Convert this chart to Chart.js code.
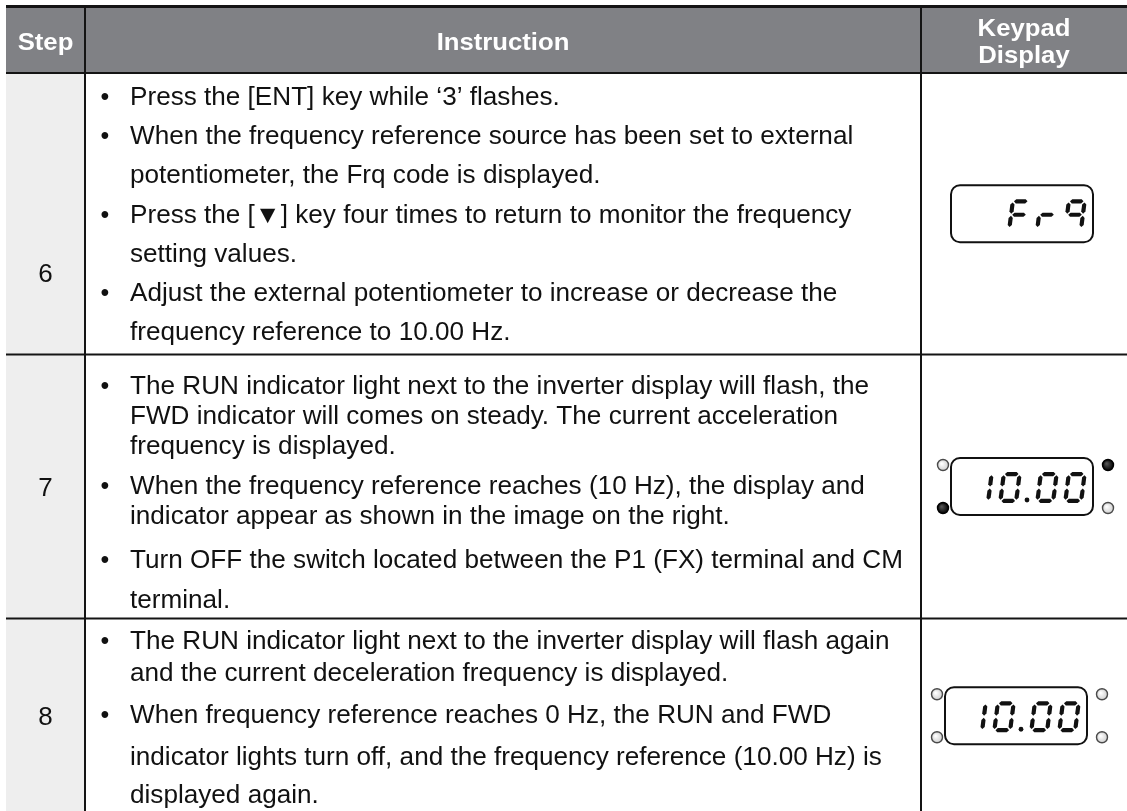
<!DOCTYPE html>
<html>
<head>
<meta charset="utf-8">
<script src="https://cdn.jsdelivr.net/npm/chart.js@4.4.0/dist/chart.umd.min.js"></script>
<style>
html, body { margin: 0; padding: 0; background: #fff; }
#table { display: block; }
</style>
</head>
<body>
<canvas id="table" width="1127" height="811"></canvas>
<script>
// ---- table content ----
const headers = ['Step', 'Instruction', 'Keypad\nDisplay'];
const steps = ['6', '7', '8'];
const instructions = [
	[
		['Press the [ENT] key while \u20183\u2019 flashes.'],
		['When the frequency reference source has been set to external', 'potentiometer, the Frq code is displayed.'],
		['Press the [\u25BC] key four times to return to monitor the frequency', 'setting values.'],
		['Adjust the external potentiometer to increase or decrease the', 'frequency reference to 10.00 Hz.']
	],
	[
		['The RUN indicator light next to the inverter display will flash, the', 'FWD indicator will comes on steady. The current acceleration', 'frequency is displayed.'],
		['When the frequency reference reaches (10 Hz), the display and', 'indicator appear as shown in the image on the right.'],
		['Turn OFF the switch located between the P1 (FX) terminal and CM', 'terminal.']
	],
	[
		['The RUN indicator light next to the inverter display will flash again', 'and the current deceleration frequency is displayed.'],
		['When frequency reference reaches 0 Hz, the RUN and FWD', 'indicator lights turn off, and the frequency reference (10.00 Hz) is', 'displayed again.']
	]
];
const keypadText = ['Frq', '10.00', '10.00'];
// indicator lamps: left top, left bottom, right top, right bottom (1 = lit)
const keypadLeds = [null, [0, 1, 1, 0], [0, 0, 0, 0]];

// ---- layout (table units = px of the page) ----
const colEdges = [6, 85, 921, 1127];
const rowEdges = [73, 354.5, 618.5, 813];
const topRule = 6.5;
const lineY = [
	[105, 144, 183, 223, 262, 301, 340],
	[394, 424, 454, 494, 524, 568, 608],
	[649, 681, 723, 765, 803]
];
const stepY = [282, 496, 725];
const boxShift = [0, 0, -6];

const ruleColor = '#141414';
const headerFill = '#808185';
const stepFill = '#eeeeee';
const FONT = '"Liberation Sans", Arial, sans-serif';

function rule(points, width) {
	return {
		data: points, borderColor: ruleColor, borderWidth: width,
		pointRadius: 0, fill: false, tension: 0, order: 1
	};
}
function band(x0, x1, y, toY, color) {
	return {
		data: [{x: x0, y: y}, {x: x1, y: y}], fill: {value: toY},
		backgroundColor: color, borderColor: 'rgba(0,0,0,0)', borderWidth: 1,
		pointRadius: 0, tension: 0, order: 2
	};
}

const left = colEdges[0], right = colEdges[colEdges.length - 1];
const datasets = [
	band(left, right, rowEdges[0], topRule + 1.5, headerFill),
	band(left, colEdges[1] - 1, 811, rowEdges[0], stepFill),
	rule([{x: left, y: topRule}, {x: right, y: topRule}], 3)
];
rowEdges.slice(0, -1).forEach(function (y) {
	datasets.push(rule([{x: left, y: y}, {x: right, y: y}], 2));
});
colEdges.slice(1, -1).forEach(function (x) {
	datasets.push(rule([{x: x, y: topRule + 1.5}, {x: x, y: 811}], 2));
});

// ---- seven segment glyphs ----
const SEGS = {
	'0': 'abcdef', '1': 'bc', 'F': 'aefg', 'r': 'eg', 'q': 'abcfg', '-': 'g'
};
function drawGlyph(ctx, ch, x0, top, w, h, k) {
	const t = 4.2, g = 1.1;
	const P = function (u, v) { return [x0 + u + k * (h - v) / h, top + v]; };
	function poly(pts) {
		ctx.beginPath();
		pts.forEach(function (p, i) {
			const q = P(p[0], p[1]);
			if (i === 0) ctx.moveTo(q[0], q[1]); else ctx.lineTo(q[0], q[1]);
		});
		ctx.closePath();
		ctx.fill();
	}
	function hseg(v) {
		const u1 = g + t / 2, u2 = w - g - t / 2;
		poly([[u1, v], [u1 + t / 2, v - t / 2], [u2 - t / 2, v - t / 2], [u2, v], [u2 - t / 2, v + t / 2], [u1 + t / 2, v + t / 2]]);
	}
	function vseg(u, v1, v2) {
		poly([[u, v1], [u + t / 2, v1 + t / 2], [u + t / 2, v2 - t / 2], [u, v2], [u - t / 2, v2 - t / 2], [u - t / 2, v1 + t / 2]]);
	}
	const s = SEGS[ch] || '';
	if (s.indexOf('a') >= 0) hseg(t / 2);
	if (s.indexOf('g') >= 0) hseg(h / 2);
	if (s.indexOf('d') >= 0) hseg(h - t / 2);
	if (s.indexOf('f') >= 0) vseg(t / 2, t / 2 + g, h / 2 - g);
	if (s.indexOf('e') >= 0) vseg(t / 2, h / 2 + g, h - t / 2 - g);
	if (s.indexOf('b') >= 0) vseg(w - t / 2, t / 2 + g, h / 2 - g);
	if (s.indexOf('c') >= 0) vseg(w - t / 2, h / 2 + g, h - t / 2 - g);
}

function drawLed(ctx, x, y, lit) {
	const r = 5.5;
	ctx.beginPath();
	ctx.arc(x, y, r, 0, Math.PI * 2);
	const grd = ctx.createRadialGradient(x - 1.5, y - 1.5, 0.5, x, y, r);
	if (lit) {
		grd.addColorStop(0, '#555');
		grd.addColorStop(1, '#000');
	} else {
		grd.addColorStop(0, '#ffffff');
		grd.addColorStop(1, '#d0d0d0');
	}
	ctx.fillStyle = grd;
	ctx.fill();
	ctx.lineWidth = 1.4;
	ctx.strokeStyle = lit ? '#000' : '#4a4a4a';
	ctx.stroke();
}

function text(ctx, s, x, y, font, color, align, sx) {
	ctx.save();
	ctx.font = font;
	ctx.fillStyle = color;
	ctx.textAlign = align;
	ctx.textBaseline = 'alphabetic';
	ctx.translate(x, y);
	ctx.scale(sx, 1);
	ctx.fillText(s, 0, 0);
	ctx.restore();
}

const tablePlugin = {
	id: 'tableCells',
	afterDatasetsDraw: function (chart) {
		const ctx = chart.ctx;
		const X = function (v) { return chart.scales.x.getPixelForValue(v); };
		const Y = function (v) { return chart.scales.y.getPixelForValue(v); };
		const headFont = 'bold 24px ' + FONT;
		const bodyFont = '25px ' + FONT;

		// header
		headers.forEach(function (h, i) {
			const cx = X((colEdges[i] + colEdges[i + 1]) / 2);
			const parts = h.split('\n');
			const mid = (topRule + 1.5 + rowEdges[0]) / 2;
			parts.forEach(function (p, j) {
				const by = mid + 9 + (j - (parts.length - 1) / 2) * 27;
				text(ctx, p, cx, Y(by), headFont, '#ffffff', 'center', 1.07);
			});
		});

		// body rows
		steps.forEach(function (st, r) {
			text(ctx, st, X((colEdges[0] + colEdges[1]) / 2), Y(stepY[r]), bodyFont, '#111', 'center', 1.04);
			let n = 0;
			instructions[r].forEach(function (bullet) {
				bullet.forEach(function (line, j) {
					const y = Y(lineY[r][n]);
					if (j === 0) text(ctx, '\u2022', X(105), y, bodyFont, '#111', 'center', 1);
					text(ctx, line, X(130), y, bodyFont, '#111', 'left', 1.045);
					n++;
				});
			});

			// keypad display
			const bw = 142, bh = 57;
			const cx = (colEdges[2] + colEdges[3]) / 2 - 2 + boxShift[r];
			const cy = (rowEdges[r] + rowEdges[r + 1]) / 2;
			const bx0 = X(cx - bw / 2), by0 = Y(cy - bh / 2);
			ctx.save();
			ctx.beginPath();
			ctx.roundRect(bx0, by0, bw, bh, 9);
			ctx.lineWidth = 2;
			ctx.strokeStyle = '#111';
			ctx.stroke();

			const w = 20, h = 31, k = 4, adv = 28, dotAdv = 9;
			const chars = keypadText[r].split('');
			let xr = bx0 + bw - 6 - w - k;
			ctx.fillStyle = '#111';
			for (let i = chars.length - 1; i >= 0; i--) {
				const c = chars[i];
				if (c === '.') {
					xr += adv;
					const dx = xr - dotAdv + 2;
					ctx.beginPath();
					ctx.arc(dx - 1, by0 + bh / 2 + h / 2 - 2, 2.4, 0, Math.PI * 2);
					ctx.fill();
					xr -= dotAdv;
					xr -= adv;
					continue;
				}
				drawGlyph(ctx, c, xr, by0 + (bh - h) / 2 + 1, w, h, k);
				xr -= adv;
			}

			const leds = keypadLeds[r];
			if (leds) {
				const lx = bx0 - 8, rx = bx0 + bw + 15;
				const ty = by0 + 7, dy = by0 + bh - 7;
				drawLed(ctx, lx, ty, leds[0]);
				drawLed(ctx, lx, dy, leds[1]);
				drawLed(ctx, rx, ty, leds[2]);
				drawLed(ctx, rx, dy, leds[3]);
			}
			ctx.restore();
		});
	}
};

new Chart(document.getElementById('table'), {
	type: 'line',
	data: { datasets: datasets },
	options: {
		responsive: false,
		animation: false,
		events: [],
		layout: { padding: 0 },
		plugins: {
			legend: { display: false },
			tooltip: { enabled: false },
			title: { display: false }
		},
		scales: {
			x: { type: 'linear', min: 0, max: 1127, display: false },
			y: { type: 'linear', min: 0, max: 811, reverse: true, display: false }
		}
	},
	plugins: [tablePlugin]
});
</script>
</body>
</html>
